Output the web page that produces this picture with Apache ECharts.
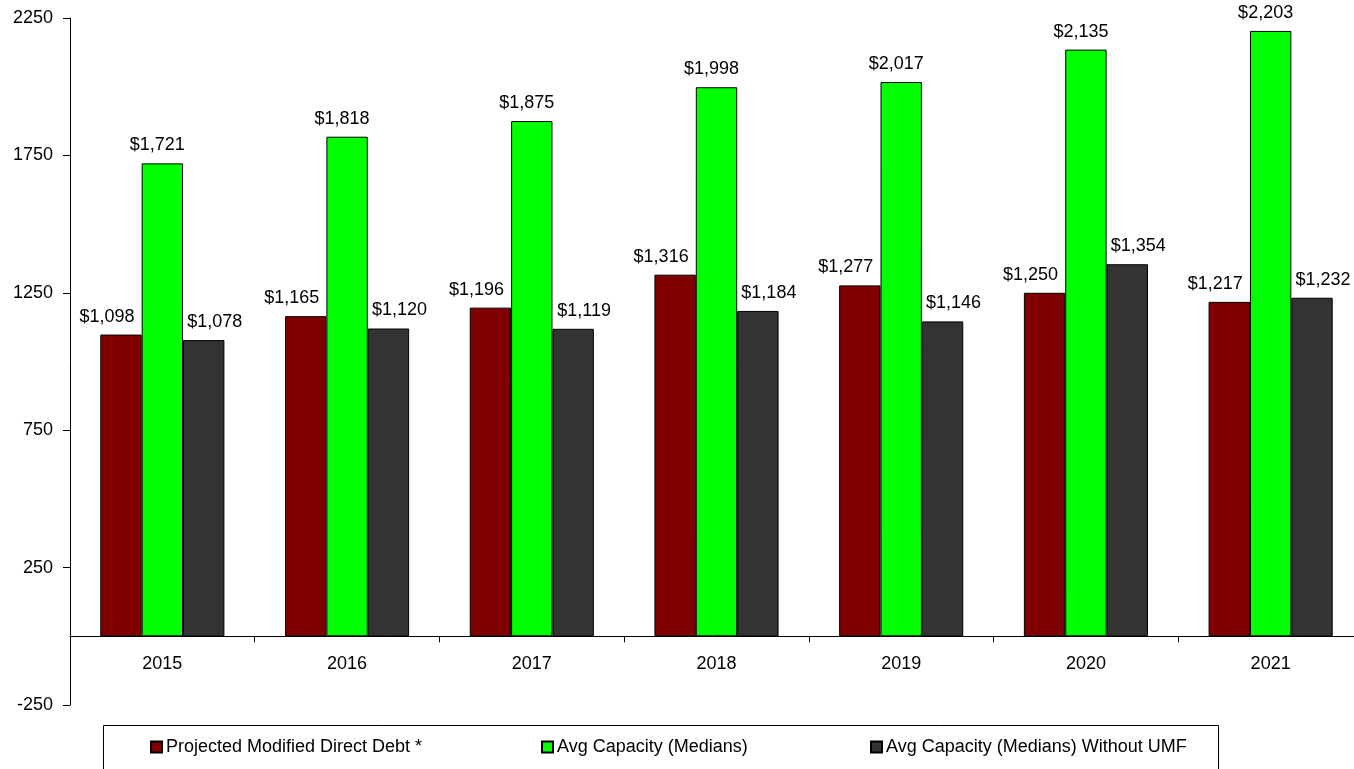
<!DOCTYPE html>
<html>
<head>
<meta charset="utf-8">
<title>Debt vs Capacity</title>
<script src="https://cdn.jsdelivr.net/npm/echarts@6/dist/echarts.min.js"></script>
<style>
  html, body { margin: 0; padding: 0; background: #fff; }
  #chart { width: 1354px; height: 769px; }
</style>
</head>
<body>
<div id="chart"></div>
<script>
// Fiscal years on the category axis
const years = ['2015', '2016', '2017', '2018', '2019', '2020', '2021'];

// Series values (in $ millions)
const projectedDebt = [1098, 1165, 1196, 1316, 1277, 1250, 1217];
const avgCapacity = [1721, 1818, 1875, 1998, 2017, 2135, 2203];
const avgCapacityNoUMF = [1078, 1120, 1119, 1184, 1146, 1354, 1232];

// Value-axis tick labels
const yTicks = [-250, 250, 750, 1250, 1750, 2250];
const yMin = -250;
const yMax = 2250;

const seriesNames = [
  'Projected Modified Direct Debt *',
  'Avg Capacity (Medians)',
  'Avg Capacity (Medians) Without UMF'
];

const FONT = '"Liberation Sans", Arial, sans-serif';

// Plot area
const GRID_TOP = 18;
const GRID_BOTTOM = 64;
const PLOT_H = 769 - GRID_TOP - GRID_BOTTOM;
// Lift the category axis from the bottom of the plot up to the zero line
const zeroLift = PLOT_H * (0 - yMin) / (yMax - yMin);

function money(v) {
  return '$' + String(v).replace(/\B(?=(\d{3})+(?!\d))/g, ',');
}

function barSeries(name, data, color, dx) {
  return {
    name: name,
    type: 'bar',
    data: data,
    barGap: '0%',
    barCategoryGap: '32.8%',
    itemStyle: { color: color, borderColor: '#000', borderWidth: 1 },
    label: {
      show: true,
      position: 'top',
      distance: 9,
      offset: [dx, 0],
      color: '#000',
      fontFamily: FONT,
      fontSize: 18,
      formatter: p => money(p.value)
    },
    emphasis: { disabled: true },
    animation: false
  };
}

function legendAt(left, name) {
  return {
    left: left,
    top: 738,
    data: [name],
    icon: 'rect',
    itemWidth: 11,
    itemHeight: 11,
    itemGap: 0,
    padding: 0,
    selectedMode: false,
    textStyle: { fontFamily: FONT, fontSize: 18, color: '#000', padding: [0, 0, 0, -1] }
  };
}

const chart = echarts.init(document.getElementById('chart'), null, { renderer: 'canvas' });

chart.setOption({
  backgroundColor: '#fff',
  animation: false,
  grid: {
    left: 70, top: GRID_TOP, width: 1293, bottom: GRID_BOTTOM,
    containLabel: false, outerBoundsMode: 'none'
  },
  xAxis: {
    type: 'category',
    data: years,
    boundaryGap: true,
    offset: -zeroLift,
    axisLine: { onZero: false, lineStyle: { color: '#000', width: 1 } },
    axisTick: { show: true, length: 6, lineStyle: { color: '#000' } },
    axisLabel: { color: '#000', fontFamily: FONT, fontSize: 18, margin: 19 },
    splitLine: { show: false }
  },
  yAxis: {
    type: 'value',
    min: yMin,
    max: yMax,
    axisLine: { show: true, onZero: false, lineStyle: { color: '#000', width: 1 } },
    axisTick: { show: true, length: 7, customValues: yTicks, lineStyle: { color: '#000' } },
    axisLabel: {
      color: '#000', fontFamily: FONT, fontSize: 18, margin: 17,
      customValues: yTicks, formatter: v => String(v)
    },
    splitLine: { show: false }
  },
  legend: [
    legendAt(150, seriesNames[0]),
    legendAt(541, seriesNames[1]),
    legendAt(870, seriesNames[2])
  ],
  graphic: [{
    type: 'rect',
    shape: { x: 103.5, y: 725.5, width: 1115, height: 60 },
    style: { fill: 'none', stroke: '#000', lineWidth: 1 },
    silent: true
  }],
  series: [
    barSeries(seriesNames[0], projectedDebt, '#800000', -14),
    barSeries(seriesNames[1], avgCapacity, '#00ff00', -5),
    barSeries(seriesNames[2], avgCapacityNoUMF, '#333333', 11)
  ]
});
</script>
</body>
</html>
